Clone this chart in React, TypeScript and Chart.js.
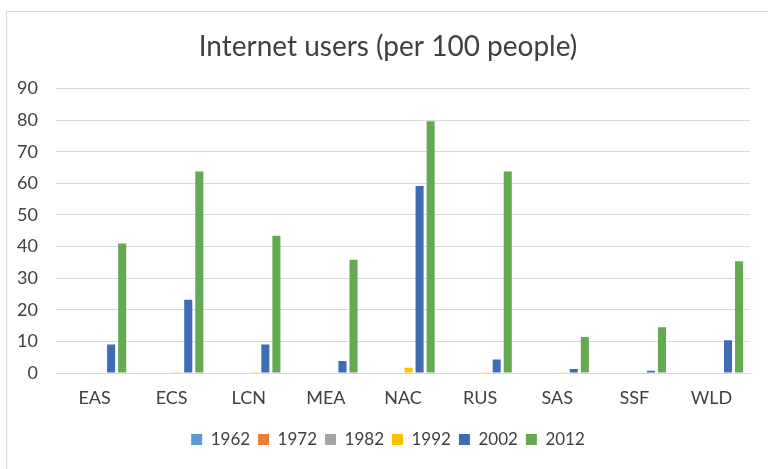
import React, { useEffect, useRef } from "react";
import { Chart, registerables } from "chart.js";

Chart.register(...registerables);

const categories = ["EAS", "ECS", "LCN", "MEA", "NAC", "RUS", "SAS", "SSF", "WLD"];
const s1962 = [0, 0, 0, 0, 0, 0, 0, 0, 0];
const s1972 = [0, 0, 0, 0, 0, 0, 0, 0, 0];
const s1982 = [0, 0, 0, 0, 0, 0, 0, 0, 0];
const s1992 = [0, 0.2, 0.1, 0, 1.7, 0.1, 0.05, 0, 0];
const s2002 = [9, 23.2, 9, 3.8, 59.2, 4.3, 1.3, 0.7, 10.4];
const s2012 = [41, 63.8, 43.4, 35.8, 79.7, 63.8, 11.4, 14.5, 35.4];
const yTicks = [0, 10, 20, 30, 40, 50, 60, 70, 80, 90];

const FONT = "Lato, 'Open Sans', sans-serif";

export default function App() {
  const ref = useRef<HTMLCanvasElement | null>(null);
  useEffect(() => {
    document.body.style.margin = "0";
    const ctx = ref.current!;
    const mk = (label: string, data: number[], color: string) => ({
      label,
      data,
      backgroundColor: color,
      borderWidth: 0,
      categoryPercentage: 0.86,
      barPercentage: 0.73,
    });
    const chart = new Chart(ctx, {
      type: "bar",
      data: {
        labels: categories,
        datasets: [
          mk("1962", s1962, "#5B9BD5"),
          mk("1972", s1972, "#ED7D31"),
          mk("1982", s1982, "#A5A5A5"),
          mk("1992", s1992, "#FFC000"),
          mk("2002", s2002, "#3F6DB5"),
          mk("2012", s2012, "#65A955"),
        ],
      },
      options: {
        animation: false,
        responsive: false,
        layout: { padding: { left: 8, right: 0, top: 20, bottom: 11 } },
        plugins: {
          tooltip: { enabled: false },
          title: {
            display: true,
            text: "Internet users (per 100 people)",
            color: "#404040",
            font: { family: FONT, size: 28, weight: "normal" },
            padding: { top: 10, bottom: 25 },
          },
          legend: {
            position: "bottom",
            labels: {
              color: "#404040",
              font: { family: FONT, size: 17 },
              boxWidth: 11,
              boxHeight: 11,
              padding: 8,
            },
          },
        },
        scales: {
          x: {
            grid: { display: false, drawTicks: false },
            border: { display: true, color: "#d9d9d9", width: 1 },
            ticks: { color: "#404040", font: { family: FONT, size: 18 }, padding: 14 },
            afterFit: (s: any) => {
              s.height = 50;
            },
          },
          y: {
            min: 0,
            max: 90,
            afterBuildTicks: (s: any) => {
              s.ticks = yTicks.map((v) => ({ value: v }));
            },
            grid: { color: "#d9d9d9", drawTicks: false, lineWidth: 1 },
            border: { display: false },
            ticks: { color: "#404040", font: { family: FONT, size: 18 }, padding: 18 },
            afterFit: (s: any) => {
              s.width = 48;
            },
          },
          yRight: {
            position: "right",
            min: 0,
            max: 90,
            grid: { display: false, drawTicks: false },
            border: { display: false },
            ticks: { display: false },
            afterFit: (s: any) => {
              s.width = 18;
            },
          },
        },
      },
    });
    return () => chart.destroy();
  }, []);
  return (
    <div style={{ position: "relative", width: 768, height: 469, overflow: "hidden", background: "#fff" }}>
      <canvas ref={ref} width={768} height={469} style={{ position: "absolute", left: 0, top: 0 }} />
      <div
        style={{
          position: "absolute",
          left: 6,
          top: 11,
          width: 800,
          height: 500,
          borderLeft: "1px solid #d9d9d9",
          borderTop: "1px solid #d9d9d9",
          pointerEvents: "none",
        }}
      />
    </div>
  );
}
